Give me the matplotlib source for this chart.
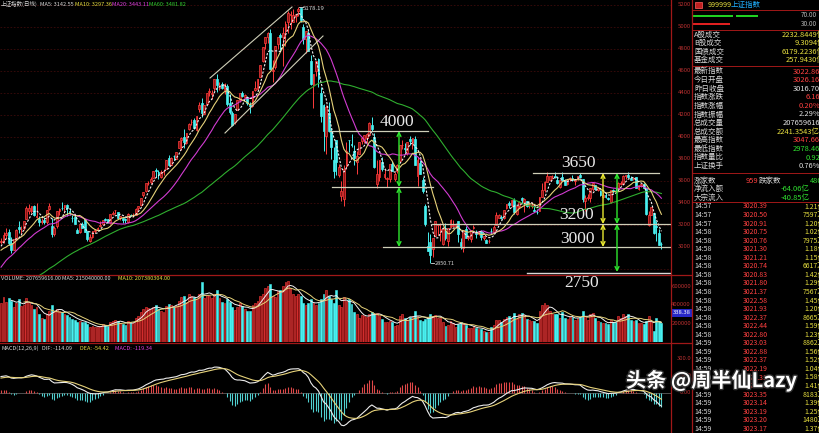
import numpy as np
import pandas as pd
import matplotlib
matplotlib.use('Agg')
import matplotlib.pyplot as plt
from matplotlib.patches import Rectangle
from matplotlib.collections import PatchCollection
import matplotlib.patheffects as pe

# ---------------- data (Shanghai Composite, daily, 2014-12-18 .. 2016-01-12) ----------------
warm_close = [2329, 2290, 2318, 2344, 2346, 2347, 2357, 2364,
              2383, 2390, 2375, 2367, 2358, 2373, 2356, 2342, 2357, 2340, 2327, 2302, 2303, 2290, 2337, 2373, 2391, 2420,
              2430, 2430, 2419, 2425, 2418, 2473, 2469, 2494, 2485, 2478, 2474, 2456, 2451, 2452, 2487, 2532, 2568, 2604, 2630, 2683,
              2680, 2763, 2779, 2899, 2938, 3020, 2856, 2940, 2925, 2938, 2953, 3022, 3061]

open_ = [3050, 3055, 3110, 3133, 3040, 2975, 3075, 3185, 3160, 3172,
         3258, 3330, 3327, 3371, 3276, 3259, 3224, 3242, 3224, 3343, 3189, 3115, 3189, 3327, 3357, 3362, 3385, 3327, 3265, 3273,
         3156, 3138, 3213, 3254, 3148, 3058, 3093, 3145, 3155, 3187, 3211, 3252, 3257, 3222, 3299,
         3332, 3317, 3264, 3264, 3252, 3224, 3292, 3288, 3294, 3353, 3378, 3469, 3509, 3581, 3590, 3628, 3701, 3683, 3639, 3680, 3711, 3810,
         3748, 3828, 3804, 3900, 3973, 4000, 3942, 4073, 4133, 4154, 4062, 4254, 4313, 4212, 4304, 4411, 4392, 4441, 4529, 4442, 4484,
         4431, 4468, 4311, 4220, 4136, 4250, 4340, 4398, 4367, 4366, 4285, 4285, 4427, 4432, 4544, 4691, 4855, 4906, 4943, 4603,
         4633, 4844, 4924, 4912, 4967, 5045, 5113, 5049, 5102, 5144, 5174, 5004, 4890, 4942, 4690, 4471, 4604, 4712, 4399, 4290, 4007,
         4214, 4058, 3793, 3975, 3655, 3467, 3432, 3739, 3976, 3939, 3874, 3772, 3845, 3965, 3972, 3991, 4020, 4110, 4000, 3573, 3636, 3770, 3637,
         3614, 3621, 3757, 3619, 3691, 3786, 3927, 3899, 3855, 3979, 3947, 3986, 3646, 3766, 3609, 3373, 3005, 3045, 2978, 3098, 3204,
         3157, 3027, 3149, 3054, 3183, 3191, 3190, 3237, 3041, 2995, 3161, 3081, 3073, 3169, 3136, 3115, 3141, 3085, 3063, 3051,
         3144, 3140, 3200, 3266, 3276, 3262, 3351, 3398, 3381, 3426, 3302, 3372, 3444, 3410, 3416, 3387, 3371,
         3337, 3320, 3325, 3458, 3514, 3588, 3612, 3641, 3650, 3606, 3550, 3633, 3606, 3572, 3621, 3630, 3601, 3614, 3657, 3616, 3417,
         3442, 3450, 3525, 3566, 3520, 3510, 3459, 3470, 3449, 3406, 3512, 3519, 3530, 3574, 3577, 3641, 3653, 3631, 3614, 3636, 3528, 3566, 3570,
         3536, 3196, 3291, 3309, 3195, 3131, 3026]

high = [3080, 3140, 3173, 3160, 3089, 3075, 3160, 3239, 3195, 3239,
        3369, 3394, 3374, 3381, 3404, 3283, 3260, 3275, 3337, 3400, 3262, 3190, 3327, 3352, 3406, 3384, 3393, 3357, 3289, 3288,
        3175, 3206, 3224, 3257, 3149, 3119, 3143, 3163, 3183, 3237, 3248, 3260, 3257, 3300, 3324,
        3336, 3317, 3286, 3265, 3268, 3305, 3304, 3309, 3357, 3374, 3450, 3503, 3577, 3600, 3632, 3688, 3716, 3696, 3702, 3710, 3795, 3835,
        3817, 3835, 3867, 3961, 4000, 4069, 4034, 4129, 4168, 4175, 4194, 4318, 4356, 4294, 4399, 4444, 4423, 4529, 4572, 4499, 4504,
        4488, 4481, 4387, 4239, 4206, 4333, 4401, 4416, 4394, 4371, 4317, 4417, 4509, 4529, 4658, 4814, 4911, 4959, 4986, 4698,
        4829, 4911, 4942, 4996, 5052, 5146, 5147, 5164, 5122, 5178, 5176, 5029, 4968, 4967, 4744, 4577, 4691, 4720, 4456, 4297, 4287,
        4317, 4081, 3913, 3975, 3755, 3597, 3748, 3959, 3976, 4030, 3929, 3876, 3957, 4000, 4018, 4036, 4132, 4184, 4039, 3790, 3790, 3822, 3717,
        3640, 3757, 3783, 3683, 3751, 3929, 3970, 3942, 3955, 4006, 3994, 4006, 3817, 3790, 3640, 3388, 3133, 3119, 3084, 3233, 3206,
        3214, 3183, 3218, 3174, 3256, 3243, 3221, 3238, 3085, 3153, 3191, 3105, 3157, 3201, 3153, 3146, 3155, 3104, 3072, 3073,
        3172, 3200, 3318, 3298, 3292, 3338, 3393, 3421, 3425, 3447, 3370, 3421, 3457, 3445, 3416, 3410, 3410,
        3370, 3342, 3459, 3585, 3596, 3678, 3650, 3658, 3679, 3643, 3607, 3678, 3620, 3617, 3640, 3654, 3617, 3648, 3669, 3621, 3470,
        3483, 3538, 3586, 3568, 3543, 3518, 3497, 3495, 3457, 3520, 3525, 3541, 3588, 3598, 3651, 3651, 3684, 3650, 3637, 3639, 3564, 3573, 3580,
        3538, 3329, 3362, 3309, 3236, 3166, 3048]

low = [3030, 3035, 3085, 3020, 2946, 2970, 3070, 3130, 3122, 3157,
       3253, 3303, 3312, 3285, 3267, 3191, 3208, 3209, 3207, 3340, 3095, 3101, 3177, 3294, 3334, 3313, 3283, 3294, 3230, 3208,
       3123, 3128, 3174, 3134, 3052, 3049, 3086, 3131, 3145, 3186, 3208, 3239, 3215, 3209, 3289,
       3298, 3260, 3250, 3221, 3218, 3218, 3278, 3271, 3287, 3340, 3377, 3455, 3496, 3560, 3569, 3624, 3633, 3615, 3626, 3655, 3710, 3733,
       3743, 3788, 3803, 3900, 3885, 3901, 3937, 4064, 4107, 4070, 4051, 4226, 4184, 4210, 4304, 4370, 4347, 4422, 4410, 4424, 4432,
       4395, 4282, 4211, 4099, 4114, 4250, 4319, 4361, 4351, 4292, 4221, 4272, 4414, 4430, 4544, 4682, 4801, 4857, 4614, 4500,
       4616, 4797, 4781, 4647, 4826, 4943, 4982, 5049, 5050, 5099, 5048, 4842, 4767, 4780, 4476, 4264, 4552, 4459, 4140, 3875, 3848,
       4043, 3796, 3629, 3653, 3640, 3421, 3373, 3705, 3868, 3910, 3745, 3662, 3843, 3938, 3949, 3946, 4005, 4055, 3718, 3537, 3601, 3689, 3620,
       3549, 3590, 3690, 3600, 3676, 3776, 3891, 3860, 3839, 3924, 3895, 3743, 3558, 3663, 3490, 3191, 2965, 2851, 2906, 3098, 3109,
       3054, 3020, 3066, 3011, 3170, 3178, 3176, 3049, 2983, 2952, 3080, 3064, 3043, 3163, 3086, 3108, 3066, 3061, 3033, 3039,
       3118, 3131, 3198, 3266, 3253, 3254, 3348, 3354, 3362, 3301, 3290, 3353, 3403, 3317, 3363, 3355, 3353,
       3318, 3301, 3325, 3456, 3500, 3588, 3612, 3614, 3627, 3573, 3538, 3603, 3568, 3562, 3603, 3597, 3566, 3608, 3627, 3412, 3328,
       3426, 3406, 3512, 3517, 3505, 3466, 3447, 3450, 3424, 3399, 3487, 3508, 3525, 3564, 3570, 3617, 3629, 3607, 3605, 3533, 3515, 3543, 3538,
       3295, 3189, 3288, 3115, 3059, 3016, 2978]

close = [3057, 3108, 3128, 3032, 2977, 3072, 3157, 3168, 3165, 3234,
         3351, 3352, 3374, 3294, 3285, 3229, 3236, 3223, 3336, 3376, 3117, 3173, 3324, 3343, 3351, 3383, 3353, 3306, 3263, 3211,
         3129, 3205, 3175, 3137, 3076, 3095, 3142, 3158, 3174, 3204, 3247, 3247, 3229, 3299, 3310,
         3336, 3263, 3280, 3248, 3241, 3302, 3286, 3291, 3349, 3373, 3449, 3503, 3578, 3582, 3617, 3688, 3691, 3661, 3683, 3691, 3787, 3748,
         3810, 3826, 3864, 3961, 3995, 3958, 4034, 4122, 4135, 4085, 4195, 4287, 4217, 4294, 4398, 4414, 4394, 4527, 4476, 4476, 4442,
         4480, 4299, 4229, 4112, 4206, 4333, 4401, 4376, 4379, 4308, 4284, 4418, 4447, 4530, 4658, 4814, 4911, 4942, 4621, 4612,
         4829, 4910, 4910, 4948, 5023, 5131, 5114, 5106, 5121, 5166, 5062, 4887, 4967, 4786, 4478, 4577, 4691, 4527, 4193, 4053, 4277,
         4053, 3913, 3687, 3776, 3727, 3507, 3710, 3877, 3970, 3925, 3806, 3823, 3958, 3993, 4017, 4027, 4124, 4071, 3726, 3663, 3789, 3706, 3664,
         3623, 3757, 3695, 3662, 3744, 3928, 3928, 3887, 3955, 3965, 3994, 3749, 3794, 3664, 3508, 3210, 2965, 2927, 3084, 3232, 3206,
         3166, 3160, 3080, 3170, 3243, 3197, 3200, 3114, 3005, 3152, 3086, 3097, 3156, 3186, 3116, 3143, 3093, 3100, 3038, 3053,
         3143, 3183, 3288, 3293, 3263, 3338, 3391, 3386, 3425, 3320, 3369, 3412, 3430, 3434, 3375, 3388, 3383,
         3325, 3317, 3459, 3522, 3590, 3647, 3641, 3650, 3632, 3580, 3607, 3605, 3568, 3617, 3630, 3610, 3616, 3648, 3636, 3436, 3445,
         3456, 3537, 3585, 3525, 3536, 3470, 3472, 3456, 3435, 3520, 3511, 3516, 3580, 3579, 3643, 3651, 3637, 3613, 3628, 3534, 3564, 3573, 3539,
         3296, 3288, 3361, 3125, 3186, 3016.70, 3022.86]

# volume in million lots
volume = [420, 480, 430, 470, 440, 380, 420, 460, 390, 400,
          470, 430, 400, 360, 380, 300, 260, 250, 300, 330, 400, 330, 360, 330, 320, 300, 290, 270, 250, 240,
          220, 230, 220, 210, 190, 160, 170, 160, 160, 170, 190, 180, 170, 220, 230,
          240, 230, 200, 190, 180, 230, 220, 200, 260, 280, 320, 350, 380, 370, 350, 380, 400, 360, 330, 320, 390, 410,
          400, 380, 390, 440, 480, 500, 430, 520, 490, 480, 460, 520, 640, 470, 510, 500, 470, 520, 560, 470, 430,
          420, 460, 430, 380, 340, 380, 420, 390, 350, 330, 330, 400, 420, 440, 490, 520, 580, 600, 620, 500,
          480, 550, 560, 600, 640, 660, 580, 520, 500, 520, 500, 420, 400, 420, 460, 420, 400, 420, 460, 520, 560,
          500, 460, 420, 560, 400, 380, 480, 440, 460, 410, 320, 300, 260, 290, 280, 270, 300, 320, 300, 310, 280, 250, 220,
          210, 230, 220, 170, 180, 280, 300, 260, 240, 270, 280, 330, 280, 240, 230, 250, 260, 300, 280, 290, 260,
          260, 220, 170, 180, 230, 200, 160, 190, 220, 200, 180, 150, 150, 170, 150, 140, 140, 120, 110, 110,
          160, 180, 240, 240, 210, 250, 270, 280, 260, 310, 250, 300, 310, 290, 250, 240, 230,
          230, 200, 330, 400, 420, 400, 330, 300, 300, 300, 260, 320, 260, 250, 270, 270, 240, 260, 270, 330, 280,
          240, 300, 310, 260, 230, 220, 200, 200, 190, 240, 220, 210, 280, 260, 300, 280, 300, 240, 230, 240, 200, 200, 190,
          230, 280, 220, 120, 260, 230, 207.66]

price_ticks = [5200, 5000, 4800, 4600, 4400, 4200, 4000, 3800, 3600, 3400, 3200, 3000]
vol_ticks = [600, 400, 200]
vol_tick_labels = ['600000', '400000', '200000']
macd_ticks = [300, 150, 0]
macd_tick_labels = ['300.0', '150.0', '0.00']

info_labels = ['A股成交', 'B股成交', '国债成交', '基金成交']
info_values = ['2232.8449亿', '9.3094亿', '6179.2236亿', '257.9430亿']
quote_labels = ['最新指数', '今日开盘', '昨日收盘', '指数涨跌', '指数涨幅', '指数振幅', '总成交量', '总成交额',
                '最高指数', '最低指数', '指数量比', '上证换手']
quote_values = ['3022.86', '3026.16', '3016.70', '6.16', '0.20%', '2.29%', '207659616', '2241.3543亿',
                '3047.66', '2978.46', '0.92', '0.76%']
quote_colors = ['#ff4040', '#ff4040', '#e0e0e0', '#ff4040', '#ff4040', '#e0e0e0', '#e0e0e0', '#e8e040',
                '#ff4040', '#30e030', '#30e030', '#e0e0e0']
tick_times = ['14:57'] * 3 + ['14:58'] * 13 + ['14:59'] * 11
tick_prices = ['3020.39', '3020.50', '3020.91', '3020.75', '3020.76', '3021.30', '3021.21', '3020.74', '3020.83',
               '3021.80', '3021.37', '3022.58', '3021.93', '3022.37', '3022.44', '3022.80', '3023.03', '3022.88',
               '3022.37', '3022.19', '3023.31', '3023.80', '3023.35', '3023.14', '3023.19', '3023.20', '3023.17']
tick_vols = ['1.21亿', '7597万', '1.20亿', '1.02亿', '7975万', '1.18亿', '1.15亿', '6617万', '1.42亿', '1.29亿',
             '7567万', '1.45亿', '1.20亿', '8665万', '1.59亿', '1.23亿', '8862万', '1.56亿', '1.52亿', '1.04亿',
             '1.58亿', '1.41亿', '8183万', '1.39亿', '1.25亿', '1480万', '1.37亿']

# ---------------- setup ----------------
plt.rcParams['font.family'] = ['Noto Sans CJK SC', 'DejaVu Sans']
W, H = 819, 433
fig = plt.figure(figsize=(W / 100, H / 100), dpi=100)
fig.patch.set_facecolor('black')

RED = '#ff3c3c'
RED_F = '#8c1414'
CYAN = '#48f0f0'
GRID = '#3c0a0a'
BORDER = '#a01818'

def add_ax(x0, y0, x1, y1):
    a = fig.add_axes([x0 / W, 1 - y1 / H, (x1 - x0) / W, (y1 - y0) / H])
    a.set_facecolor('black')
    for s in a.spines.values():
        s.set_visible(False)
    a.set_xticks([]); a.set_yticks([])
    return a

def T(x, y, s, c='#d8d8d8', ha='left', size=5.4, **kw):
    return fig.text(x / W, 1 - y / H, s, color=c, ha=ha, va='center', fontsize=size, **kw)

open_ = np.array(open_, float); high = np.array(high, float)
low = np.array(low, float); close = np.array(close, float)
volume = np.array(volume, float)
N = len(close)
idx = np.arange(N)
XL = (-1 / 2.54, 670 / 2.54)
PX = 0.11            # pixels per index point
def py(p):           # price -> pixel row
    return 247 - (p - 3000) * PX
def pp(y):           # pixel row -> price
    return 3000 + (247 - y) / PX
def pi(x):           # pixel column -> index
    return (x - 1) / 2.54

up = close >= open_
ecol = [RED if u else CYAN for u in up]
fcol = [RED_F if u else CYAN for u in up]

# ---------------- price panel ----------------
axp = add_ax(0, 0, 671, 275)
axp.set_xlim(*XL)
axp.set_ylim(pp(275), pp(0))
for p in price_ticks + [2800]:
    axp.axhline(p, color=GRID, lw=0.6, ls=(0, (2, 2)), zorder=0)

axp.vlines(idx, low, high, colors=ecol, lw=0.7, zorder=2)
bodies = [Rectangle((i - 0.36, min(open_[i], close[i])), 0.72, max(abs(close[i] - open_[i]), 4)) for i in idx]
axp.add_collection(PatchCollection(bodies, facecolors=fcol, edgecolors=ecol, linewidths=0.5, zorder=3))

allc = pd.Series(np.concatenate([np.array(warm_close, float), close]))
nw = len(warm_close)
def ma(n):
    return allc.rolling(n).mean().values[nw:]
axp.plot(idx, ma(60), color='#2fae2f', lw=0.8, zorder=4)
axp.plot(idx, ma(20), color='#d23cd2', lw=0.8, zorder=4)
axp.plot(idx, ma(10), color='#e6d27a', lw=0.8, zorder=4)
axp.plot(idx, ma(5), color='#f0f0f0', lw=0.8, ls=(0, (2, 1.4)), zorder=5)

# hand-drawn annotations
LV = '#cfcfb8'
axp.plot([pi(210), pi(292)], [pp(78), pp(7)], color=LV, lw=0.8, zorder=6)
axp.plot([pi(225), pi(323)], [pp(133), pp(36)], color=LV, lw=0.8, zorder=6)
axp.plot([pi(330), pi(428)], [pp(131), pp(131)], color=LV, lw=0.9, zorder=6)
axp.plot([pi(332), pi(433)], [pp(187), pp(187)], color=LV, lw=0.9, zorder=6)
axp.plot([pi(383), pi(672)], [pp(247), pp(247)], color=LV, lw=0.9, zorder=6)
axp.plot([pi(432), pi(672)], [pp(224), pp(224)], color=LV, lw=0.9, zorder=6)
axp.plot([pi(533), pi(659)], [pp(173), pp(173)], color=LV, lw=0.9, zorder=6)
axp.plot([pi(527), pi(673)], [pp(272.5), pp(272.5)], color='#d8d8d8', lw=1.0, zorder=6)

def darrow(x, y1, y2, col):
    axp.annotate('', xy=(pi(x), pp(y1)), xytext=(pi(x), pp(y2)),
                 arrowprops=dict(arrowstyle='<->', color=col, lw=1.0, mutation_scale=7,
                                 shrinkA=0, shrinkB=0), zorder=7)
G = '#2ee82e'; Y = '#e8e830'
darrow(399, 131, 187, G); darrow(399, 187, 247, G)
darrow(603, 173, 224, Y); darrow(603, 224, 247, Y)
darrow(617, 173, 224, G); darrow(617, 224, 272, G)

# extreme labels
axp.plot([117.3, 118.8], [5178, 5178], color='#e0e0e0', lw=0.6, zorder=6)
axp.text(119.0, 5172, '5178.19', color='#d8d8d8', fontsize=4.3, va='center', zorder=7)
axp.plot([169.3, 170.6], [2851, 2851], color='#e0e0e0', lw=0.6, zorder=6)
axp.text(170.8, 2851, '2850.71', color='#d8d8d8', fontsize=4.0, va='center', zorder=7)

# level text
for s, x, y in [('4000', 397, 122), ('3650', 578, 163), ('3200', 577, 215), ('3000', 577, 239), ('2750', 582, 283)]:
    T(x, y, s, c='#e8e8e8', ha='center', size=12.5, family='Liberation Serif', zorder=10)

# ---------------- volume panel ----------------
VS = 0.093
axv = add_ax(0, 275, 671, 342)
axv.set_xlim(*XL)
axv.set_ylim(0, 67 / VS)
axv.bar(idx, volume, width=0.72, color=fcol, edgecolor=ecol, lw=0.4, zorder=2)
vs = pd.Series(volume)
axv.plot(idx, vs.rolling(5).mean(), color='#f0f0f0', lw=0.7, zorder=3)
axv.plot(idx, vs.rolling(10).mean(), color='#e6d27a', lw=0.7, zorder=3)

# ---------------- MACD panel ----------------
MS = 0.115   # pixels per MACD unit
axm = add_ax(0, 343, 671, 433)
axm.set_xlim(*XL)
axm.set_ylim(-40 / MS, 50 / MS)
e12 = allc.ewm(span=12, adjust=False).mean()
e26 = allc.ewm(span=26, adjust=False).mean()
difs = e12 - e26
deas = difs.ewm(span=9, adjust=False).mean()
dif = difs.values[nw:]; dea = deas.values[nw:]
hist = 2 * (dif - dea)
axm.axhline(0, color='#707070', lw=0.5, zorder=1)
axm.vlines(idx, 0, hist, colors=np.where(hist >= 0, '#e04848', '#50d0d0'), lw=0.8, zorder=2)
axm.plot(idx, dif, color='#ececec', lw=0.8, zorder=3)
axm.plot(idx, dea, color='#e6d27a', lw=0.8, zorder=3)

# ---------------- panel titles ----------------
TS = 4.0
T(1, 4, '上证指数(日线)', size=TS)
T(40, 4, 'MA5: 3142.55', size=TS)
T(75, 4, 'MA10: 3297.36', c='#e8e040', size=TS)
T(112, 4, 'MA20: 3443.11', c='#e040e0', size=TS)
T(149, 4, 'MA60: 3481.82', c='#30d030', size=TS)
T(1, 279, 'VOLUME: 207659616.00', size=TS)
T(62, 279, 'MA5: 215040000.00', size=TS)
T(118, 279, 'MA10: 207380304.00', c='#e8e040', size=TS)
T(1, 348, 'MACD(12,26,9)', size=TS)
T(42, 348, 'DIF: -114.09', size=TS)
T(80, 348, 'DEA: -54.42', c='#e8e040', size=TS)
T(115, 348, 'MACD: -119.34', c='#e040e0', size=TS)

# ---------------- borders & axis column ----------------
def fline(x0, y0, x1, y1, c=BORDER, lw=0.9):
    fig.add_artist(plt.Line2D([x0 / W, x1 / W], [1 - y0 / H, 1 - y1 / H], color=c, lw=lw))
fline(0, 274.5, 692, 274.5)
fline(0, 342.5, 692, 342.5)
fline(671, 0, 671, 433)
fline(692, 0, 692, 433)

for p in price_ticks:
    T(691, py(p), str(p), c='#b83030', ha='right', size=4.3)
for v, s in zip(vol_ticks, vol_tick_labels):
    T(691, 342 - v * VS, s, c='#b83030', ha='right', size=4.3)
for v, s in zip(macd_ticks, macd_tick_labels):
    T(691, 393 - v * MS, s, c='#b83030', ha='right', size=4.3)
fig.add_artist(Rectangle((672 / W, 1 - 317 / H), 20 / W, 8 / H, transform=fig.transFigure,
                         facecolor='#2828c8', edgecolor='none'))
T(682, 313, '338.38', c='white', ha='center', size=4.2)

# ---------------- right info panel ----------------
fig.add_artist(Rectangle((695 / W, 1 - 8 / H), 7 / W, 6 / H, transform=fig.transFigure,
                         facecolor='#c02020', edgecolor='#ff6060', lw=0.5))
T(708, 5, '999999', c='#e8e040', size=5.2)
T(731, 5, '上证指数', c='#20b0ff', size=5.4)
fig.add_artist(Rectangle((693 / W, 1 - 17 / H), 40 / W, 2.2 / H, transform=fig.transFigure, facecolor='#20d020'))
fig.add_artist(Rectangle((736 / W, 1 - 17 / H), 22 / W, 2.2 / H, transform=fig.transFigure, facecolor='#20d020'))
fig.add_artist(Rectangle((693 / W, 1 - 25 / H), 37 / W, 2.2 / H, transform=fig.transFigure, facecolor='#e02020'))
T(817, 15, '70.00', c='#b0b0b0', ha='right', size=4.6)
T(817, 24, '30.00', c='#b0b0b0', ha='right', size=4.6)
for yy in [9.5, 30, 66, 172.5, 202]:
    fline(692, yy, 819, yy, lw=0.7)

for k, (lab, val) in enumerate(zip(info_labels, info_values)):
    y = 34.5 + k * 8.6
    T(694, y, lab)
    T(825, y, val, c='#e8e040', ha='right')
for k, (lab, val, c) in enumerate(zip(quote_labels, quote_values, quote_colors)):
    y = 71.5 + k * 8.6
    T(694, y, lab)
    T(820, y, val, c=c, ha='right')
T(694, 180.5, '涨家数')
T(746, 180.5, '959', c='#ff4040')
T(759, 180.5, '跌家数')
T(822, 180.5, '480', c='#30e030', ha='right')
T(694, 189, '净流入额')
T(810, 189, '-64.06亿', c='#30e030', ha='right')
T(826, 189, '-4', c='#30e030', ha='right')
T(694, 197.5, '大宗流入')
T(810, 197.5, '-40.85亿', c='#30e030', ha='right')
T(826, 197.5, '-4', c='#30e030', ha='right')
for k in range(len(tick_times)):
    y = 206.5 + k * 8.55
    T(694, y, tick_times[k], size=5.0)
    T(768, y, tick_prices[k], c='#ff4040', ha='right', size=5.0)
    T(825, y, tick_vols[k], c='#e8e040', ha='right', size=5.0)

# ---------------- watermark ----------------
T(626, 381, '头条 @周半仙Lazy', c='white', size=14.5, weight='bold',
  path_effects=[pe.withStroke(linewidth=2.0, foreground='#303030')])

fig.savefig('out.png', dpi=100, facecolor='black')
